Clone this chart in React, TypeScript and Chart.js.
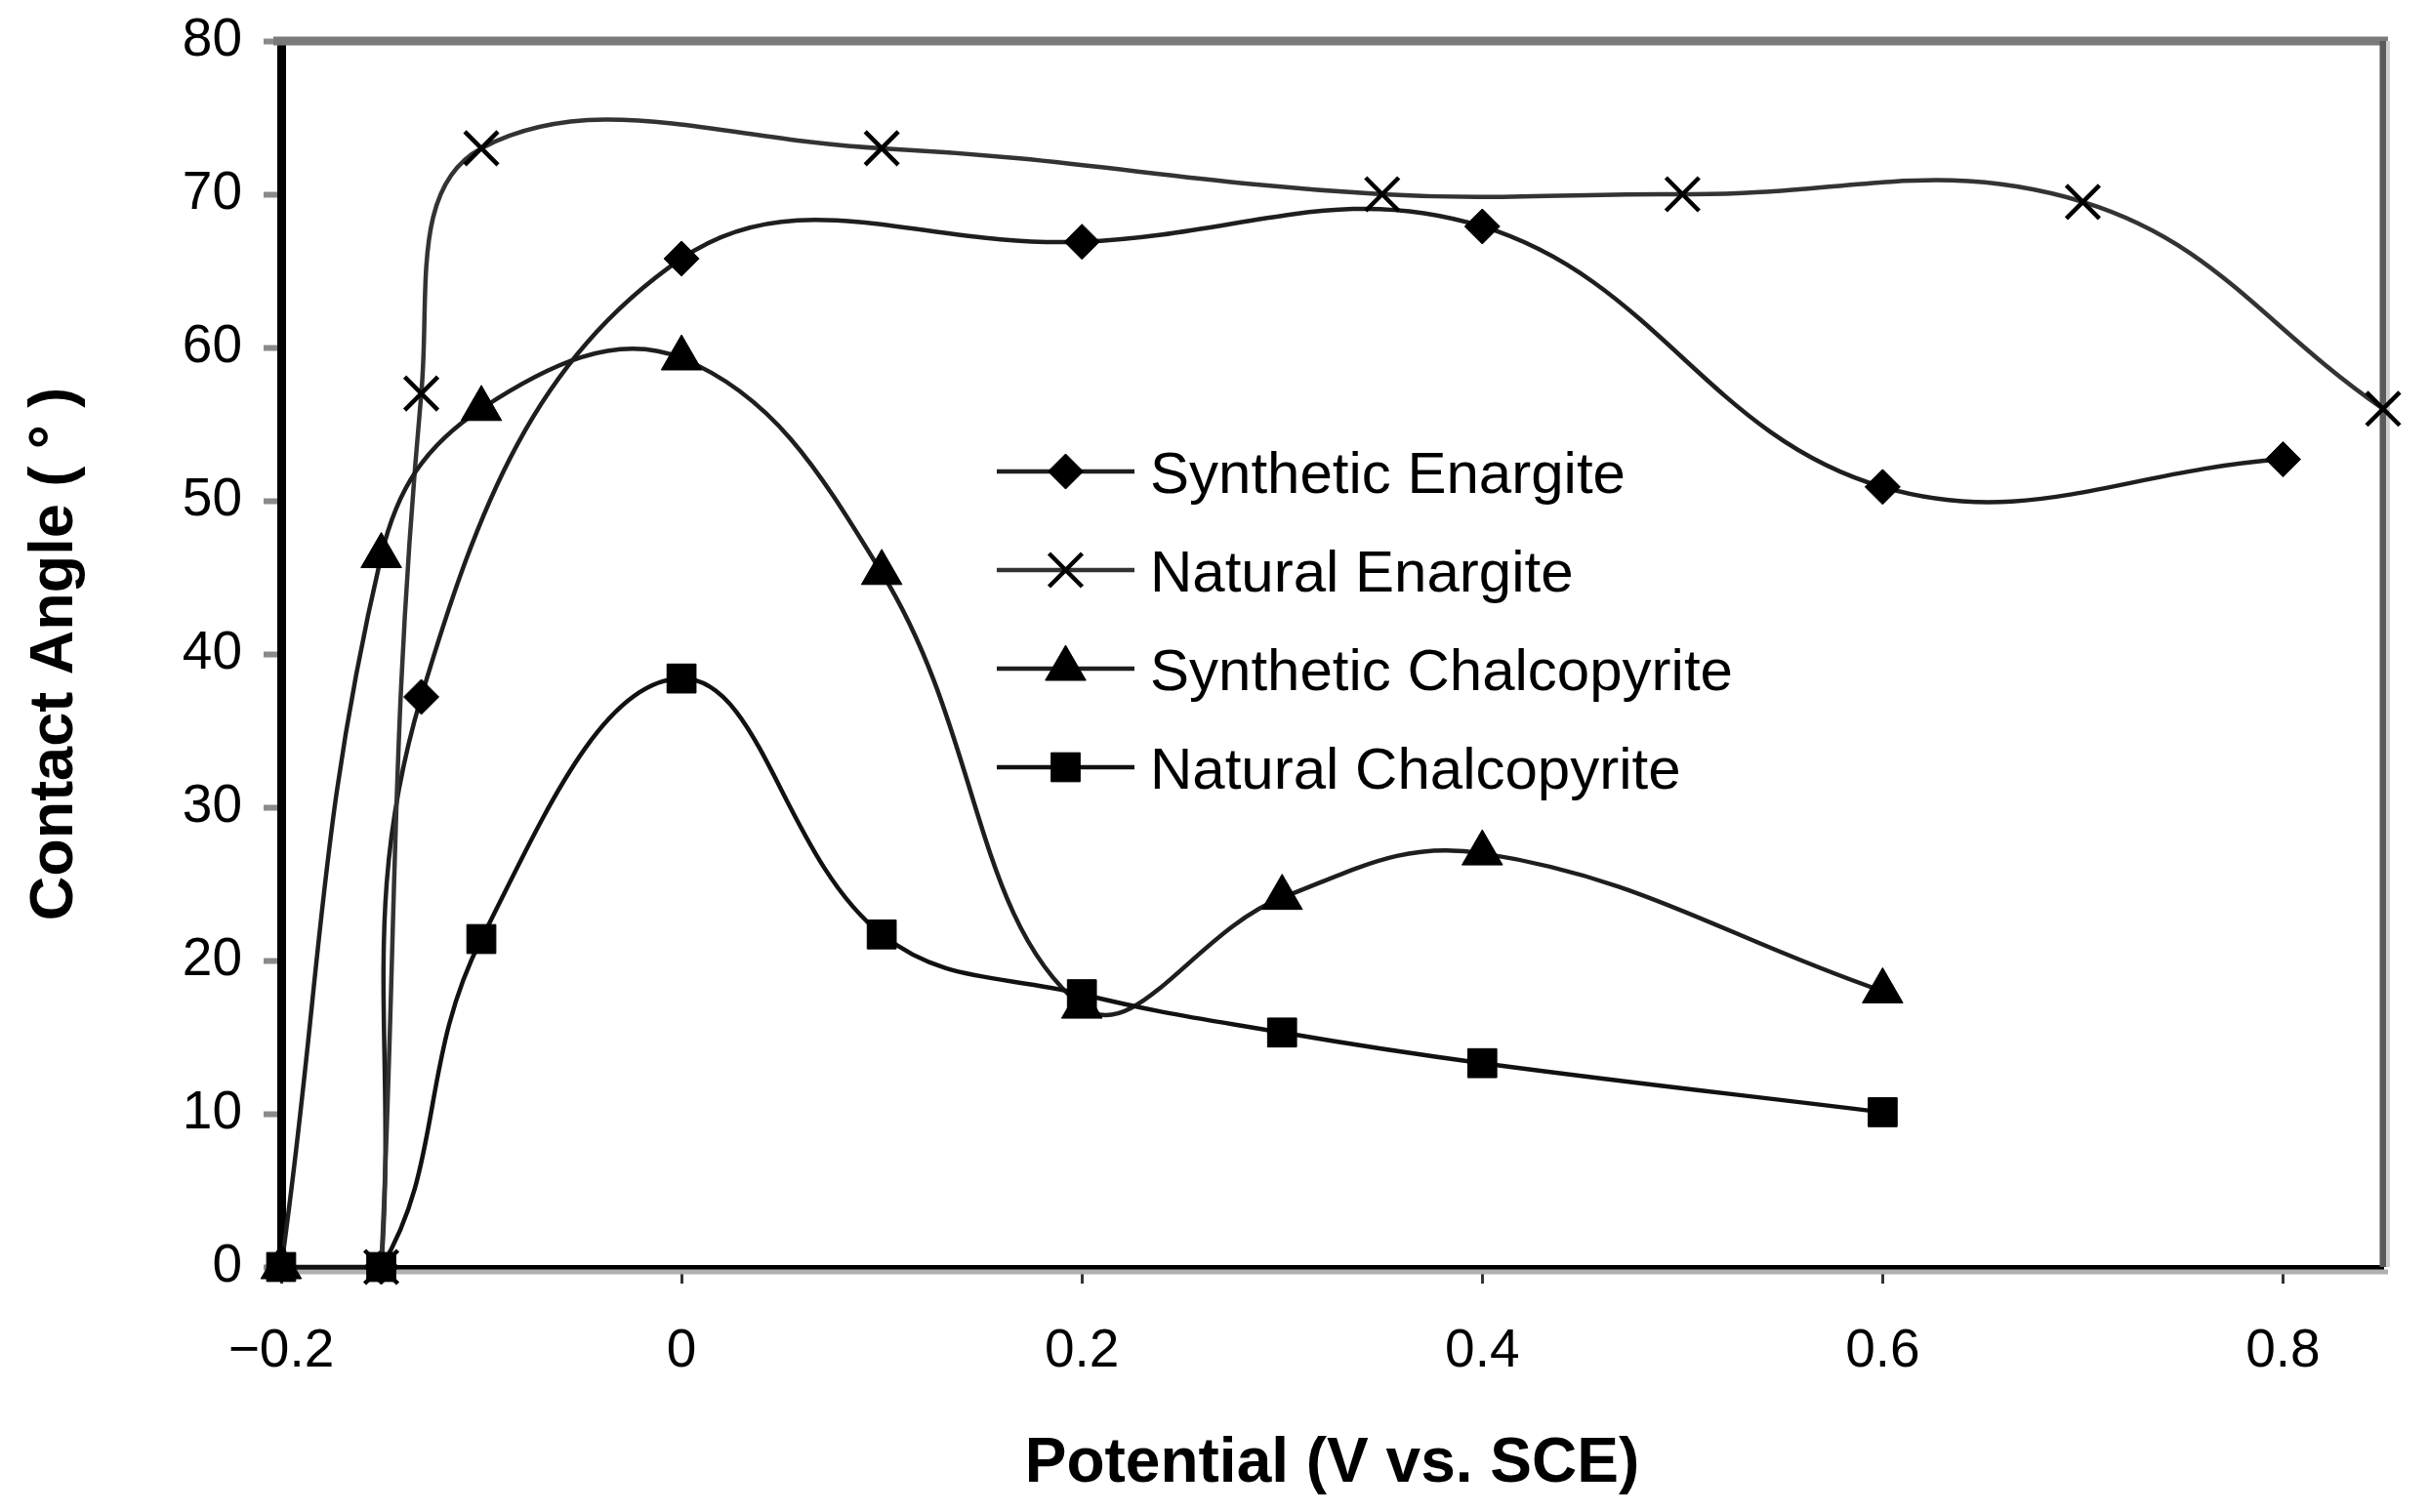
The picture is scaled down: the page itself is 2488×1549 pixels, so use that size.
import React, { useEffect, useRef } from 'react';
import { Chart, registerables } from 'chart.js';
import { drawPoint } from 'chart.js/helpers';

Chart.register(...registerables);

// ---- data ----
const seriesNames = [
  'Synthetic Enargite',
  'Natural Enargite',
  'Synthetic Chalcopyrite',
  'Natural Chalcopyrite',
];
const synEnargiteX = [-0.15, -0.13, 0, 0.2, 0.4, 0.6, 0.8];
const synEnargiteY = [0, 37.2, 65.8, 66.9, 67.9, 50.9, 52.7];
const natEnargiteX = [-0.15, -0.13, -0.1, 0.1, 0.35, 0.5, 0.7, 0.85];
const natEnargiteY = [0, 57, 73, 73, 70, 70, 69.5, 56];
const synChalcoX = [-0.2, -0.15, -0.1, 0, 0.1, 0.2, 0.3, 0.4, 0.6];
const synChalcoY = [0, 46.4, 56, 59.3, 45.3, 17, 24.1, 27, 18];
const natChalcoX = [-0.2, -0.15, -0.1, 0, 0.1, 0.2, 0.3, 0.4, 0.6];
const natChalcoY = [0, 0, 21.4, 38.4, 21.7, 17.8, 15.3, 13.3, 10.1];
const xTicks = [-0.2, 0, 0.2, 0.4, 0.6, 0.8];
const yTicks = [0, 10, 20, 30, 40, 50, 60, 70, 80];
const xTitle = 'Potential (V vs. SCE)';
const yTitle = 'Contact Angle ( \u00b0 )';

const FONT = '"Liberation Sans", Arial, Helvetica, sans-serif';

const toPoints = (xs: number[], ys: number[]) => xs.map((x, i) => ({ x, y: ys[i] }));

const styles = [
  { pointStyle: 'rectRot', radius: 18, color: '#1e1e1e', pbw: 1 },
  { pointStyle: 'crossRot', radius: 24, color: '#333333', pbw: 4.5 },
  { pointStyle: 'triangle', radius: 24, color: '#1e1e1e', pbw: 1 },
  { pointStyle: 'rect', radius: 21, color: '#111111', pbw: 1 },
];

const framePlugin = {
  id: 'frame',
  beforeDatasetsDraw(chart: any) {
    const { ctx, chartArea } = chart;
    const { left, right, top, bottom } = chartArea;
    ctx.save();
    ctx.lineCap = 'butt';
    // top border (gray)
    ctx.strokeStyle = '#7a7a7a';
    ctx.lineWidth = 9;
    ctx.beginPath();
    ctx.moveTo(left - 8, top);
    ctx.lineTo(right + 5, top);
    ctx.stroke();
    // right border (gray)
    ctx.strokeStyle = '#5a5a5a';
    ctx.lineWidth = 7;
    ctx.beginPath();
    ctx.moveTo(right, top);
    ctx.lineTo(right, bottom);
    ctx.stroke();
    ctx.strokeStyle = '#cfcfcf';
    ctx.lineWidth = 4;
    ctx.beginPath();
    ctx.moveTo(right + 5, top);
    ctx.lineTo(right + 5, bottom);
    ctx.stroke();
    // gray shadow under x axis
    ctx.strokeStyle = '#b0b0b0';
    ctx.lineWidth = 5;
    ctx.beginPath();
    ctx.moveTo(left, bottom + 5);
    ctx.lineTo(right + 5, bottom + 5);
    ctx.stroke();
    ctx.restore();
  },
};

const legendPlugin = {
  id: 'insideLegend',
  afterDatasetsDraw(chart: any) {
    const { ctx, chartArea } = chart;
    const x0 = chartArea.left + 733;
    const sampleW = 141;
    const textX = x0 + 157;
    const y0 = chartArea.top + 441;
    const rowH = 101;
    chart.data.datasets.forEach((ds: any, i: number) => {
      const y = y0 + i * rowH;
      ctx.save();
      ctx.strokeStyle = ds.borderColor;
      ctx.lineWidth = ds.borderWidth;
      ctx.beginPath();
      ctx.moveTo(x0, y);
      ctx.lineTo(x0 + sampleW, y);
      ctx.stroke();
      ctx.fillStyle = ds.pointBackgroundColor;
      ctx.strokeStyle = ds.pointBorderColor;
      ctx.lineWidth = ds.pointBorderWidth;
      drawPoint(
        ctx,
        { pointStyle: ds.pointStyle, radius: ds.pointRadius, rotation: 0, borderWidth: ds.pointBorderWidth },
        x0 + sampleW / 2,
        y
      );
      ctx.fillStyle = '#000';
      ctx.font = `60px ${FONT}`;
      ctx.textAlign = 'left';
      ctx.textBaseline = 'alphabetic';
      ctx.fillText(ds.label, textX, y + 22);
      ctx.restore();
    });
  },
};

export default function App() {
  const canvasRef = useRef<HTMLCanvasElement | null>(null);

  useEffect(() => {
    const canvas = canvasRef.current;
    if (!canvas) return;
    const allX = [synEnargiteX, natEnargiteX, synChalcoX, natChalcoX];
    const allY = [synEnargiteY, natEnargiteY, synChalcoY, natChalcoY];
    const datasets = seriesNames.map((name, i) => ({
      label: name,
      data: toPoints(allX[i], allY[i]),
      borderColor: styles[i].color,
      borderWidth: 4.5,
      tension: 0.4,
      fill: false,
      clip: false as any,
      pointStyle: styles[i].pointStyle,
      pointRadius: styles[i].radius,
      pointHoverRadius: styles[i].radius,
      pointBackgroundColor: '#000',
      pointBorderColor: '#000',
      pointBorderWidth: styles[i].pbw,
      order: 3 - i,
    }));

    const chart = new Chart(canvas, {
      type: 'line',
      data: { datasets },
      plugins: [framePlugin, legendPlugin],
      options: {
        animation: false,
        responsive: false,
        devicePixelRatio: 1,
        layout: { padding: { top: 42, right: 47, left: 0, bottom: 0 } },
        plugins: { legend: { display: false }, tooltip: { enabled: false }, title: { display: false } },
        scales: {
          x: {
            type: 'linear',
            min: -0.2,
            max: 0.85,
            afterFit: (scale: any) => {
              scale.height = 251;
              scale.paddingLeft = 0;
              scale.paddingRight = 0;
            },
            afterBuildTicks: (scale: any) => {
              scale.ticks = xTicks.map((v) => ({ value: v }));
            },
            border: { display: true, color: '#000', width: 5 },
            grid: {
              drawOnChartArea: false,
              drawTicks: true,
              tickLength: 17,
              tickWidth: 3,
              tickColor: '#333',
              color: '#333',
            },
            ticks: {
              padding: 37,
              color: '#000',
              font: { family: FONT, size: 55 },
              maxRotation: 0,
              autoSkip: false,
              callback: (v: any) => {
                const n = Number(v);
                if (Math.abs(n) < 1e-9) return '0';
                return (n < 0 ? '\u2212' : '') + Math.abs(n).toFixed(1);
              },
            },
            title: {
              display: true,
              text: xTitle,
              color: '#000',
              font: { family: FONT, size: 64, weight: 'bold' },
              padding: { top: 0, bottom: 10 },
            },
          },
          y: {
            type: 'linear',
            min: 0,
            max: 80,
            afterFit: (scale: any) => {
              scale.width = 288;
              scale.paddingTop = 0;
              scale.paddingBottom = 0;
            },
            afterBuildTicks: (scale: any) => {
              scale.ticks = yTicks.map((v) => ({ value: v }));
            },
            border: { display: true, color: '#000', width: 9 },
            grid: {
              drawOnChartArea: false,
              drawTicks: true,
              tickLength: 18,
              tickWidth: 6,
              tickColor: '#8a8a8a',
              color: '#8a8a8a',
            },
            ticks: {
              padding: 22,
              color: '#000',
              font: { family: FONT, size: 55 },
              autoSkip: false,
            },
            title: {
              display: true,
              text: yTitle,
              color: '#000',
              font: { family: FONT, size: 63, weight: 'bold' },
              padding: { top: 19, bottom: 0 },
            },
          },
        },
      } as any,
    });
    return () => chart.destroy();
  }, []);

  return (
    <div style={{ position: 'fixed', left: 0, top: 0, width: 2488, height: 1549, background: '#fff' }}>
      <canvas ref={canvasRef} width={2488} height={1549} style={{ width: 2488, height: 1549, display: 'block' }} />
    </div>
  );
}
